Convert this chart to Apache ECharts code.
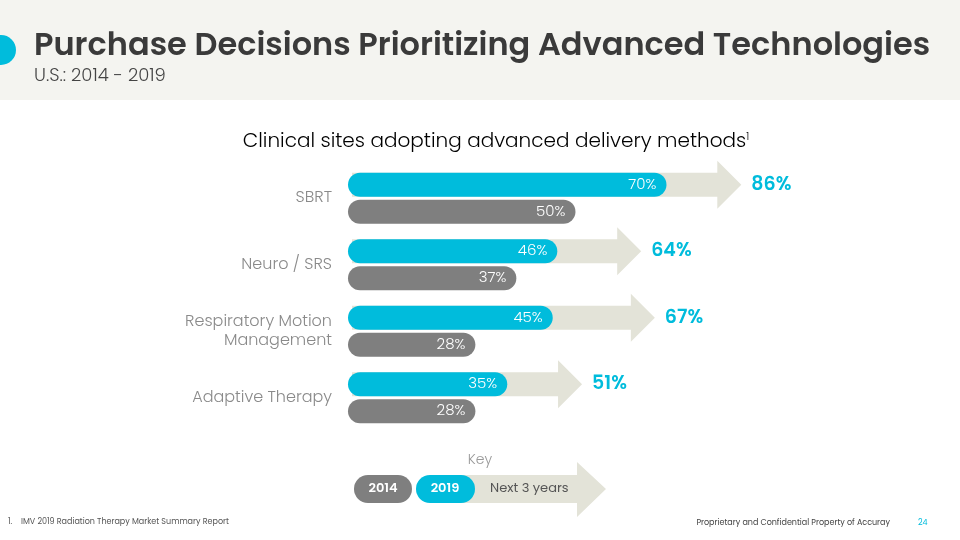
<!DOCTYPE html>
<html><head><meta charset="utf-8">
<script src="https://cdn.jsdelivr.net/npm/echarts@6/dist/echarts.min.js"></script>
<style>html,body{margin:0;padding:0;background:#fff}#c{width:960px;height:540px}</style>
</head><body><div id="c"></div>
<script>
var categories = ['SBRT', 'Neuro / SRS', 'Respiratory Motion\nManagement', 'Adaptive Therapy'];
var values2014 = [50, 37, 28, 28];
var values2019 = [70, 46, 45, 35];
var valuesNext3 = [86, 64, 67, 51];
var keyLabels = ['2014', '2019', 'Next 3 years'];

var CYAN = '#00BCDC', GRAY = '#7F7F7F', BEIGE = '#E3E3D8';
var FONT = 'Poppins, Inter, "Noto Sans", sans-serif';

var chart = echarts.init(document.getElementById('c'), null, {renderer: 'canvas'});

var arrowData = valuesNext3.map(function (v, i) { return [v, i]; });

chart.setOption({
  animation: false,
  grid: {left: 348, top: 165, width: 455, height: 266},
  xAxis: {type: 'value', min: 0, max: 100, show: false},
  yAxis: {
    type: 'category', data: categories, inverse: true,
    axisLine: {show: false}, axisTick: {show: false}, splitLine: {show: false},
    axisLabel: {margin: 16, color: '#8A8A8A', fontSize: 16, fontWeight: 300, fontFamily: FONT, lineHeight: 19, align: 'right'}
  },
  graphic: [
    {type: 'rect', shape: {x: 0, y: 0, width: 960, height: 100}, style: {fill: '#F4F4F0'}, z: -10},
    {type: 'circle', shape: {cx: 1, cy: 50, r: 15}, style: {fill: CYAN}},
    {type: 'text', x: 34, y: 47, style: {text: 'Purchase Decisions Prioritizing Advanced Technologies', fill: '#3A3A3A', font: '600 32px ' + FONT, textVerticalAlign: 'middle', verticalAlign: 'middle'}},
    {type: 'text', x: 34, y: 76, style: {text: 'U.S.: 2014 - 2019', fill: '#444', font: '300 18px ' + FONT, textVerticalAlign: 'middle', verticalAlign: 'middle'}},
    {type: 'text', x: 496, y: 142, style: {text: '{a|Clinical sites adopting advanced delivery methods}{s|1}', textAlign: 'center', align: 'center', textVerticalAlign: 'middle', verticalAlign: 'middle',
      rich: {a: {fontSize: 20, fontFamily: FONT, color: '#444', fontWeight: 300}, s: {fontSize: 10, fontFamily: FONT, color: '#444', fontWeight: 300, verticalAlign: 'top', padding: [0, 0, 10, 0]}}}},
    // key
    {type: 'text', x: 480, y: 460, style: {text: 'Key', fill: '#999', font: '300 14px ' + FONT, textAlign: 'center', align: 'center', textVerticalAlign: 'middle', verticalAlign: 'middle'}},
    {type: 'polygon', shape: {points: [[440, 475], [577, 475], [577, 462], [606, 489], [577, 517], [577, 503], [440, 503]]}, style: {fill: BEIGE}},
    {type: 'rect', shape: {x: 354, y: 475, width: 58, height: 28, r: 14}, style: {fill: GRAY}},
    {type: 'rect', shape: {x: 416, y: 475, width: 59, height: 28, r: 14}, style: {fill: CYAN}},
    {type: 'text', x: 383, y: 489, style: {text: keyLabels[0], fill: '#fff', font: '600 13px ' + FONT, textAlign: 'center', align: 'center', textVerticalAlign: 'middle', verticalAlign: 'middle'}},
    {type: 'text', x: 445, y: 489, style: {text: keyLabels[1], fill: '#fff', font: '600 13px ' + FONT, textAlign: 'center', align: 'center', textVerticalAlign: 'middle', verticalAlign: 'middle'}},
    {type: 'text', x: 490, y: 489, style: {text: keyLabels[2], fill: '#555', font: '13px ' + FONT, textVerticalAlign: 'middle', verticalAlign: 'middle'}},
    // footer
    {type: 'text', x: 8, y: 522, style: {text: '1.', fill: '#555', font: '8px ' + FONT, textVerticalAlign: 'middle', verticalAlign: 'middle'}},
    {type: 'text', x: 21, y: 522, style: {text: 'IMV 2019 Radiation Therapy Market Summary Report', fill: '#555', font: '8px ' + FONT, textVerticalAlign: 'middle', verticalAlign: 'middle'}},
    {type: 'text', x: 890, y: 523, style: {text: 'Proprietary and Confidential Property of Accuray', fill: '#444', font: '8px ' + FONT, textAlign: 'right', align: 'right', textVerticalAlign: 'middle', verticalAlign: 'middle'}},
    {type: 'text', x: 918, y: 523, style: {text: '24', fill: CYAN, font: '8px ' + FONT, textVerticalAlign: 'middle', verticalAlign: 'middle'}}
  ],
  series: [
    {
      type: 'custom', z: 1, data: arrowData, encode: {x: 0, y: 1},
      renderItem: function (params, api) {
        var v = api.value(0), idx = api.value(1);
        var s = api.coord([0, idx]), e = api.coord([v, idx]);
        var cy = s[1] - 13.5, bh = 12, hh = 24, hl = 24;
        var x0 = s[0] + 4, x1 = e[0] + 2;
        return {type: 'group', children: [
          {type: 'polygon', shape: {points: [[x0, cy - bh], [x1 - hl, cy - bh], [x1 - hl, cy - hh], [x1, cy], [x1 - hl, cy + hh], [x1 - hl, cy + bh], [x0, cy + bh]]}, style: {fill: BEIGE}},
          {type: 'text', x: x1 + 10, y: cy, style: {text: v + '%', fill: CYAN, font: '600 19px ' + FONT, textVerticalAlign: 'middle', verticalAlign: 'middle'}}
        ]};
      }
    },
    {
      type: 'bar', name: '2019', data: values2019, barWidth: 24, barGap: '12.5%', z: 3,
      itemStyle: {color: CYAN, borderRadius: 12},
      label: {show: true, position: 'insideRight', offset: [-5, 0], color: '#fff', fontSize: 15, fontWeight: 300, fontFamily: FONT, formatter: '{c}%'}
    },
    {
      type: 'bar', name: '2014', data: values2014, barWidth: 24, barGap: '12.5%', z: 3,
      itemStyle: {color: GRAY, borderRadius: 12},
      label: {show: true, position: 'insideRight', offset: [-5, 0], color: '#fff', fontSize: 15, fontWeight: 300, fontFamily: FONT, formatter: '{c}%'}
    }
  ]
});
</script></body></html>
